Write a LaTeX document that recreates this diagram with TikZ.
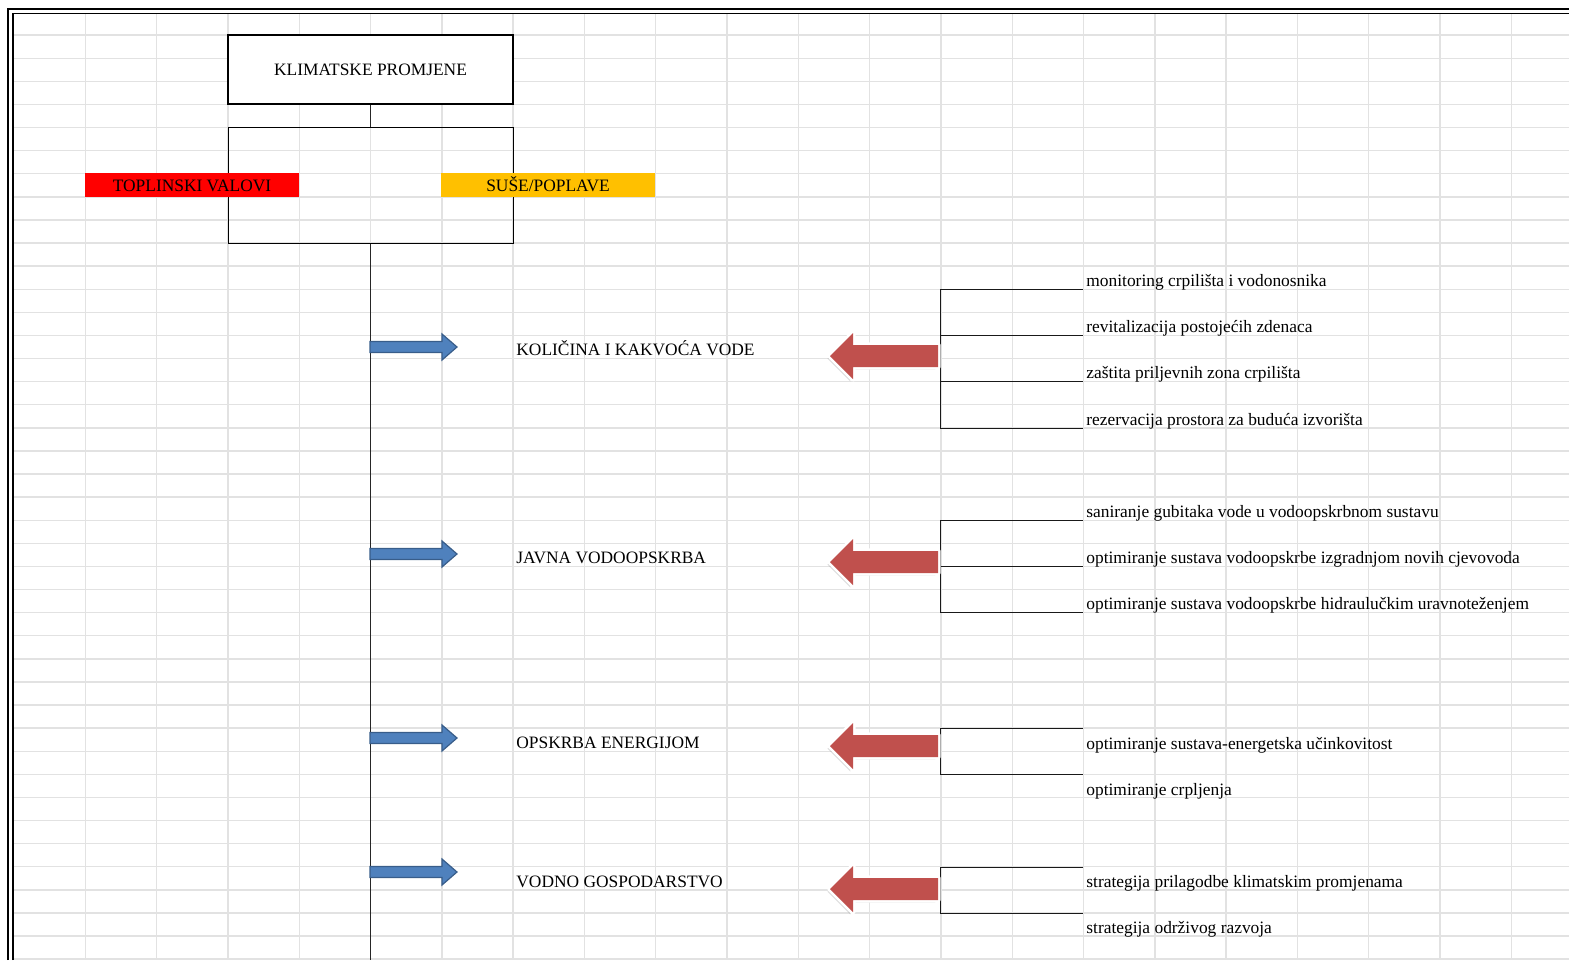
\documentclass[tikz,border=0pt]{standalone}
\usepackage{fontspec}
\setmainfont{Liberation Serif}
\usetikzlibrary{positioning,shadows}
\definecolor{cGrid}{HTML}{E2E2E2}
\definecolor{cHeat}{HTML}{FF0000}
\definecolor{cDry}{HTML}{FFC000}
\definecolor{cBlue}{HTML}{4F81BD}
\definecolor{cBlueD}{HTML}{385D8A}
\definecolor{cRed}{HTML}{C0504D}
\tikzset{
  gridline/.style={cGrid,line width=0.7pt},
  titlebox/.style={draw,line width=1pt,fill=white,inner sep=0pt,
                   minimum width=142.5pt,minimum height=34.5pt},
  splitbox/.style={draw,line width=0.5pt,inner sep=0pt,
                   minimum width=142.5pt,minimum height=58pt},
  bar/.style={inner sep=0pt,minimum width=107pt,minimum height=12pt,
              text height=6.2pt,text depth=0pt},
  branch/.style={anchor=base west,inner sep=0pt},
  measure/.style={anchor=base west,inner sep=0pt},
  link/.style={line width=0.5pt,black!85},
  bracket/.style={line width=0.5pt,black!90},
  pics/inarrow/.style={code={
    \draw[fill=cBlue,draw=cBlueD,line width=0.6pt]
      (0,-5.5) -- (72,-5.5) -- (72,-13) -- (87,0) -- (72,13) -- (72,5.5) -- (0,5.5) -- cycle;
  }},
  pics/outarrow/.style={code={
    \draw[draw=white,fill=white,line width=2.6pt,line join=round,
          drop shadow={opacity=0.28,shadow xshift=-1.3pt,shadow yshift=-1.3pt}]
      (0,-11) -- (-85,-11) -- (-85,-23) -- (-108,0) -- (-85,23) -- (-85,11) -- (0,11) -- cycle;
    \fill[cRed]
      (0,-11) -- (-85,-11) -- (-85,-23) -- (-108,0) -- (-85,23) -- (-85,11) -- (0,11) -- cycle;
  }},
}

\begin{document}
\begin{tikzpicture}[x=0.5pt,y=-0.5pt,every node/.style={font=\fontsize{8.7}{10}\selectfont}]
  \useasboundingbox (0,0) rectangle (1569,960);

  % sheet grid
  \foreach \k in {1,...,21}
    \draw[gridline] ({14+71.3*\k},13.5) -- ({14+71.3*\k},960);
  \foreach \k in {1,...,41}
    \draw[gridline] (13,{12+23.1*\k}) -- (1569,{12+23.1*\k});
  \draw[line width=1pt] (8,960) -- (8,9) -- (1569,9);
  \draw[line width=0.7pt] (13,960) -- (13,13.5) -- (1569,13.5);

  % top of the tree
  \node[titlebox] (klima) at (370.5,69.5) {KLIMATSKE PROMJENE};
  \node[splitbox] (split) at (370.5,185) {};
  \node[bar,fill=cHeat] (heat) at (192,185) {TOPLINSKI VALOVI};
  \node[bar,fill=cDry] (dry) at (548,185) {SUŠE/POPLAVE};
  \coordinate (bottom) at (370.5,960);
  \draw[link] (klima.south) -- (split.north);
  \draw[link] (split.south) -- (bottom);

  % sectors
  \node[branch] (water) at (516,355) {KOLIČINA I KAKVOĆA VODE};
  \node[branch] (supply) at (516,563) {JAVNA VODOOPSKRBA};
  \node[branch] (energy) at (516,748) {OPSKRBA ENERGIJOM};
  \node[branch] (manage) at (516,887) {VODNO GOSPODARSTVO};
  \pic at (370,347) {inarrow};
  \pic at (370,554) {inarrow};
  \pic at (370,738) {inarrow};
  \pic at (370,872) {inarrow};

  % measures
  \node[measure] (m11) at (1086,286) {monitoring crpilišta i vodonosnika};
  \node[measure] (m12) at (1086,332.5) {revitalizacija postojećih zdenaca};
  \node[measure] (m13) at (1086,378.5) {zaštita priljevnih zona crpilišta};
  \node[measure] (m14) at (1086,425) {rezervacija prostora za buduća izvorišta};
  \node[measure] (m21) at (1086,517) {saniranje gubitaka vode u vodoopskrbnom sustavu};
  \node[measure] (m22) at (1086,563) {optimiranje sustava vodoopskrbe izgradnjom novih cjevovoda};
  \node[measure] (m23) at (1086,609.5) {optimiranje sustava vodoopskrbe hidraulučkim uravnoteženjem};
  \node[measure] (m31) at (1086,749.5) {optimiranje sustava-energetska učinkovitost};
  \node[measure] (m32) at (1086,795.5) {optimiranje crpljenja};
  \node[measure] (m41) at (1086,887) {strategija prilagodbe klimatskim promjenama};
  \node[measure] (m42) at (1086,933) {strategija održivog razvoja};

  % brackets
  \draw[bracket] (1083,289) -- (940.5,289) -- (940.5,428) -- (1083,428);
  \draw[bracket] (940.5,335.5) -- (1083,335.5);
  \draw[bracket] (940.5,381.5) -- (1083,381.5);
  \draw[bracket] (1083,520.5) -- (940.5,520.5) -- (940.5,612.5) -- (1083,612.5);
  \draw[bracket] (940.5,566.5) -- (1083,566.5);
  \draw[bracket] (1083,728.5) -- (940.5,728.5) -- (940.5,774.5) -- (1083,774.5);
  \draw[bracket] (1083,867.5) -- (940.5,867.5) -- (940.5,913.5) -- (1083,913.5);

  \pic at (938,356) {outarrow};
  \pic at (938,562) {outarrow};
  \pic at (938,746) {outarrow};
  \pic at (938,889) {outarrow};
\end{tikzpicture}
\end{document}
